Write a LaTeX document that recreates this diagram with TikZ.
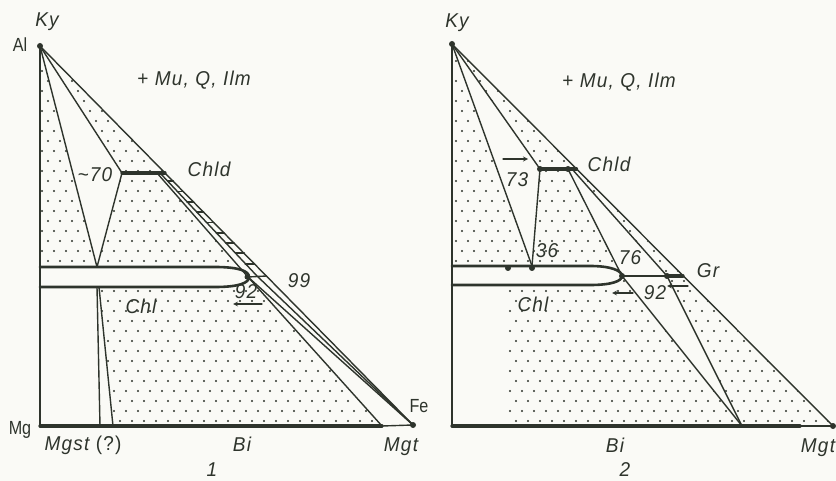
\documentclass[tikz,border=0pt]{standalone}
\usepackage{fontspec}
\newfontfamily\handfont[FakeStretch=0.95, LetterSpace=6]{Liberation Sans}
\newfontfamily\elemfont[FakeStretch=0.85]{Liberation Sans}
\usepackage{tikz}
\usetikzlibrary{patterns.meta, calc, arrows}

\definecolor{ink}{RGB}{46,52,44}
\definecolor{paper}{RGB}{250,250,246}

\tikzdeclarepattern{
  name=sparsedots,
  type=colored,
  bottom left={(-2pt,-2pt)},
  top right={(10pt,18pt)},
  tile size={(12pt,20pt)},
  code={
    \fill[ink] (0pt,0pt) circle (1.15pt);
    \fill[ink] (6pt,10pt) circle (1.15pt);
  }
}

\begin{document}
\begin{tikzpicture}[
    x=1pt, y=-1pt, line join=round, line cap=round,
    ln/.style={draw=ink, line width=1.4pt},
    thk/.style={draw=ink, line width=3.2pt},
    band/.style={draw=ink, line width=2.6pt, fill=paper},
    dotfield/.style={pattern=sparsedots},
    lbl/.style={font=\handfont\itshape\fontsize{20}{20}\selectfont, text=ink,
      inner sep=0pt, anchor=base},
    elem/.style={font=\elemfont\fontsize{19}{19}\selectfont, text=ink,
      inner sep=0pt, anchor=base},
    pt/.style={circle, fill=ink, inner sep=0pt, minimum size=6pt},
    arrow/.style={ink, line width=1.2pt, ->, >=stealth}
]
\fill[paper] (0,0) rectangle (836,481);
\useasboundingbox (0,0) rectangle (836,481);

% ---------------- diagram 1 ----------------
\coordinate (alA) at (40,46);
\coordinate (mgA) at (40,426);
\coordinate (feA) at (413,425);
\coordinate (footA) at (97,267);
\coordinate (chldLA) at (122,173);
\coordinate (chldRA) at (157,173);
\coordinate (railSA) at (160,173);
\coordinate (chldHA) at (165,173);
\coordinate (chlEA) at (248,277);
\coordinate (railEA) at (257,276);
\coordinate (tieHA) at (266.5,276);
\coordinate (biA) at (382,426);
\coordinate (wedgeA) at (97,287);
\coordinate (wedgeAb) at (100,426);
\coordinate (wedgeB) at (99,287);
\coordinate (wedgeBb) at (113,426);

\fill[dotfield] (alA) -- (40,267) -- (footA) -- cycle;
\fill[dotfield] (alA) -- (chldLA) -- (chldHA) -- cycle;
\fill[dotfield] (chldLA) -- (chldRA) -- (chlEA) -- (footA) -- cycle;
\fill[dotfield] (wedgeB) -- (wedgeBb) -- (biA) -- (chlEA) -- (240,287) -- cycle;

\draw[band] (40,267) -- (215,267) .. controls (239,267) and (249,271) .. (249,277)
  .. controls (249,283) and (239,287) .. (215,287) -- (40,287);

\draw[ln] (alA) -- (mgA);
\draw[ln] (alA) -- (feA);
\draw[ln] (alA) -- (footA);
\draw[ln] (alA) -- (chldLA);
\draw[ln] (chldLA) -- (footA);
\draw[ln] (chldRA) -- (chlEA);
\draw[ln] (railSA) -- (railEA) -- (feA);
\draw[ln] (chlEA) -- (feA);
\draw[ln] (chlEA) -- (biA);
\draw[ln] (chlEA) -- (tieHA);
\draw[ln] (wedgeA) -- (wedgeAb);
\draw[ln] (wedgeB) -- (wedgeBb);
\foreach \t in {0.08,0.18,...,0.95}
  \draw[ink, line width=1.8pt] ($(railSA)!\t!(railEA)$) -- ($(chldHA)!\t!(tieHA)$);
\draw[thk] (chldLA) -- (chldHA);
\draw[thk] (mgA) -- (biA);
\draw[ln] (biA) -- (feA);

\node[pt] (alDot) at (alA) {};
\node[pt] (feDot) at (feA) {};
\node[pt, minimum size=5pt] (chlDotA) at (247,277) {};

\coordinate (arA1) at (262,304);
\coordinate (arA2) at (233,304);
\draw[arrow] (arA1) -- (arA2);

\node[lbl] (kyA) at (47,27) {Ky};
\node[elem] (alLbl) at (20,52) {Al};
\node[lbl] (assemA) at (194,86) {+ Mu, Q, Ilm};
\node[lbl] (n70) at (95,182) {\textasciitilde70};
\node[lbl] (chldA) at (209,177) {Chld};
\node[lbl] (n99) at (299,288) {99};
\node[lbl] (n92A) at (246,299) {92};
\node[lbl] (chlA) at (141,313) {Chl};
\node[elem] (mgLbl) at (20,434) {Mg};
\node[elem] (feLbl) at (419,412) {Fe};
\node[lbl] (mgstA) at (83,450) {Mgst {\upshape(?)}};
\node[lbl] (biLblA) at (242,451) {Bi};
\node[lbl] (mgtA) at (401,451) {Mgt};
\node[lbl] (numA) at (212,476) {1};

% ---------------- diagram 2 ----------------
\coordinate (kyB) at (452,44);
\coordinate (mgB) at (452,426);
\coordinate (mgtB) at (833,426);
\coordinate (p36) at (532,266);
\coordinate (chldLB) at (540,169);
\coordinate (chldRB) at (568,169);
\coordinate (chldSB) at (572,169);
\coordinate (chldHB) at (576.5,169);
\coordinate (p76) at (622,276);
\coordinate (grL) at (667,276);
\coordinate (grH) at (683,276);
\coordinate (biB) at (742,426);

\fill[dotfield] (kyB) -- (452,266) -- (p36) -- cycle;
\fill[dotfield] (kyB) -- (chldLB) -- (chldHB) -- cycle;
\fill[dotfield] (chldLB) -- (chldRB) -- (p76) -- (p36) -- cycle;
\fill[dotfield] (chldSB) -- (chldHB) -- (grH) -- (grL) -- cycle;
\fill[dotfield] (508,285) -- (508,426) -- (biB) -- (p76) -- cycle;
\fill[dotfield] (grL) -- (grH) -- (mgtB) -- (biB) -- cycle;

\draw[band] (452,266) -- (590,266) .. controls (612,266) and (622,271) .. (622,276)
  .. controls (622,281) and (612,285) .. (590,285) -- (452,285);

\draw[ln] (kyB) -- (mgB);
\draw[ln] (kyB) -- (mgtB);
\draw[ln] (kyB) -- (p36);
\draw[ln] (kyB) -- (chldLB);
\draw[ln] (chldLB) -- (p36);
\draw[ln] (chldRB) -- (p76);
\draw[ln] (chldSB) -- (grL);
\draw[ln] (p76) -- (grL);
\draw[ln] (p76) -- (biB);
\draw[ln] (grL) -- (biB);
\draw[thk] (chldLB) -- (chldHB);
\draw[thk] (grL) -- (grH);
\draw[thk] (mgB) -- (800,426);
\draw[ln] (800,426) -- (mgtB);

\node[pt] (kyDot) at (kyB) {};
\node[pt] (mgtDot) at (mgtB) {};
\node[pt] (chldDot1) at (chldLB) {};
\node[pt] (chldDot2) at (chldRB) {};
\node[pt] (chlDot1) at (508,268) {};
\node[pt] (chlDot2) at (532,268) {};
\node[pt] (dot76) at (p76) {};
\node[pt] (grDot) at (grL) {};

\coordinate (arB1) at (503,159);
\coordinate (arB2) at (528,159);
\coordinate (arC1) at (633,293);
\coordinate (arC2) at (612,293);
\coordinate (arD1) at (688,286);
\coordinate (arD2) at (667,286);
\draw[arrow] (arB1) -- (arB2);
\draw[arrow] (arC1) -- (arC2);
\draw[arrow] (arD1) -- (arD2);

\node[lbl] (kyLblB) at (457,28) {Ky};
\node[lbl] (assemB) at (619,88) {+ Mu, Q, Ilm};
\node[lbl] (chldB) at (609,172) {Chld};
\node[lbl] (n73) at (517,187) {73};
\node[lbl] (n36) at (547,258) {36};
\node[lbl] (n76) at (630,265) {76};
\node[lbl] (grLbl) at (708,278) {Gr};
\node[lbl] (n92B) at (655,300) {92};
\node[lbl] (chlB) at (533,312) {Chl};
\node[lbl] (biLblB) at (615,452) {Bi};
\node[lbl] (mgtLblB) at (818,452) {Mgt};
\node[lbl] (numB) at (625,476) {2};
\end{tikzpicture}
\end{document}
